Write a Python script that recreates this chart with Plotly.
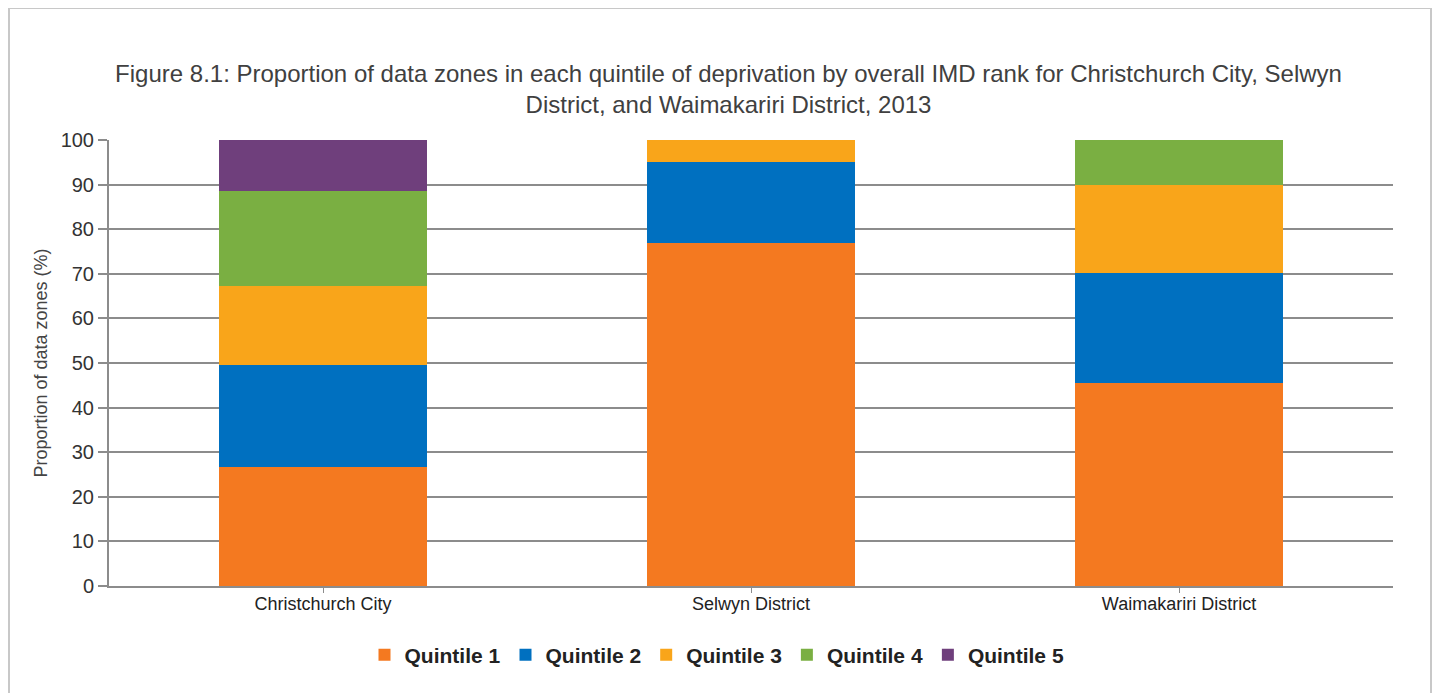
import plotly.graph_objects as go

categories = ["Christchurch City", "Selwyn District", "Waimakariri District"]
quintile_names = ["Quintile 1", "Quintile 2", "Quintile 3", "Quintile 4", "Quintile 5"]
q1 = [26.7, 76.8, 45.5]
q2 = [22.8, 18.3, 24.7]
q3 = [17.8, 4.9, 19.6]
q4 = [21.2, 0.0, 10.2]
q5 = [11.5, 0.0, 0.0]
colors = ["#F47920", "#0070C0", "#F9A51A", "#7AAF42", "#6F3F7C"]
y_ticks = [0, 10, 20, 30, 40, 50, 60, 70, 80, 90, 100]

FONT = "Liberation Sans, Arial, sans-serif"

fig = go.Figure()
for name, vals, col in zip(quintile_names, [q1, q2, q3, q4, q5], colors):
    fig.add_trace(go.Bar(x=categories, y=vals, name=name,
                         marker=dict(color=col, line=dict(width=0))))

# page is drawn with an 8px body margin, so figure coords = page coords - 8
OFF = 8
W, H = 1441 - OFF, 693 - OFF
L, R, T, B = 101, 48, 132, 107
pw = W - L - R
ph = H - T - B

def px_x(x):
    return (x - OFF - L) / pw

def px_y(y):
    return (H - B - (y - OFF)) / ph

fig.update_layout(
    width=W, height=H,
    barmode="stack", bargap=0.516,
    paper_bgcolor="white", plot_bgcolor="white",
    margin=dict(l=L, r=R, t=T, b=B),
    font=dict(family=FONT, color="#333333"),
    title=dict(
        text="Figure 8.1: Proportion of data zones in each quintile of deprivation by overall IMD rank for Christchurch City, Selwyn<br>District, and Waimakariri District, 2013",
        x=px_x(728.5), xref="paper", xanchor="center",
        y=1 - (82 - OFF) / H, yref="container", yanchor="middle",
        font=dict(family=FONT, size=24, color="#404040"),
    ),
    xaxis=dict(
        showgrid=False, showline=True, linecolor="#8c8c8c", linewidth=2,
        ticks="outside", ticklen=5, tickcolor="#8c8c8c", tickwidth=1,
        tickfont=dict(family=FONT, size=18, color="#222222"),
        ticklabelstandoff=-5,
    ),
    yaxis=dict(
        range=[0, 100], tickvals=y_ticks,
        showgrid=True, gridcolor="#8c8c8c", gridwidth=1.5,
        showline=True, linecolor="#8c8c8c", linewidth=2,
        ticks="outside", ticklen=9, tickcolor="#8c8c8c", tickwidth=1.5,
        tickfont=dict(family=FONT, size=20, color="#333333"),
        title=dict(text="Proportion of data zones (%)",
                   font=dict(family=FONT, size=18, color="#444444"),
                   standoff=8),
        zeroline=False,
    ),
    legend=dict(
        orientation="h", x=px_x(717), xanchor="center",
        y=px_y(655), yanchor="middle",
        font=dict(family=FONT, size=21, color="#222222", weight="bold"),
        traceorder="normal", itemwidth=30,
    ),
    showlegend=True,
)

fig.add_shape(type="rect", xref="paper", yref="paper",
              x0=px_x(9), x1=px_x(1431), y0=px_y(720), y1=px_y(8),
              line=dict(color="#c8c8c8", width=2), fillcolor="rgba(0,0,0,0)",
              layer="below")

fig.write_html("out.html")
